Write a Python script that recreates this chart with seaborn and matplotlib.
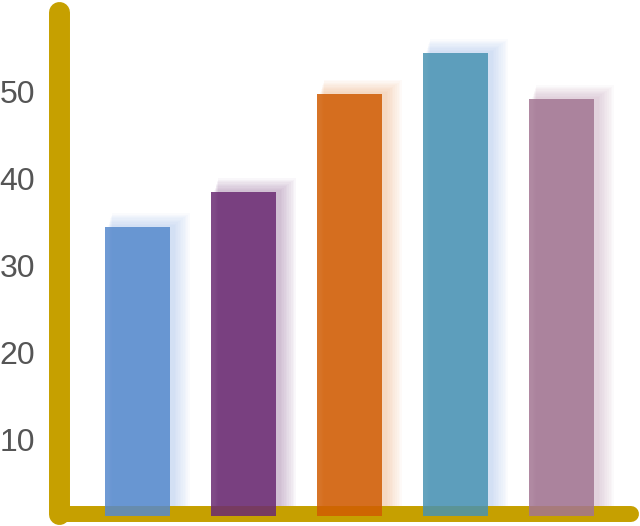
import pandas as pd
import matplotlib
matplotlib.use('Agg')
import matplotlib.pyplot as plt
import seaborn as sns
from matplotlib.patches import Rectangle

# Chart data
categories = ['A', 'B', 'C', 'D', 'E']
values = [34.4, 38.4, 49.7, 54.4, 49.1]
tick_values = [10, 20, 30, 40, 50]

# Styles
bar_colors = ['#5689cd', '#6a2a72', '#d05c02', '#4993b2', '#a27592']
glow_colors = ['#8fb4e6', '#8a5a90', '#f0a060', '#8fb4e6', '#b88cac']
gold = '#c6a000'

df = pd.DataFrame({'category': categories, 'value': values})

sns.set_style('white')
plt.rcParams['font.family'] = ['Liberation Sans', 'DejaVu Sans']

fig = plt.figure(figsize=(6.4, 5.26), dpi=100)
ax = fig.add_axes([60 / 640, 10 / 526, 565 / 640, 508 / 526])

sns.barplot(data=df, x='category', y='value', hue='category', palette=bar_colors,
            width=0.613, alpha=0.85, saturation=1, legend=False, ax=ax, zorder=3,
            linewidth=0, edgecolor='none')

ax.set_xlim(-0.731, 4.599)
ax.set_ylim(1.21, 59.6)

# soft glow behind each bar, mostly to the right and top
px_x = 1 / 106
px_y = 1 / 8.7
for p, gc in zip(ax.patches[:len(categories)], glow_colors):
    x0, w, h = p.get_x(), p.get_width(), p.get_height()
    for k in range(1, 11):
        e = k * 1.3
        ax.add_patch(Rectangle((x0 + (3 + 0.3 * e) * px_x, 0), w + e * px_x,
                               h + (1 + e) * px_y, color=gc, alpha=0.045,
                               lw=0, zorder=1))

# thick gold axes
ax.plot([-0.00177, -0.00177], [0.993, 0.0049], transform=ax.transAxes,
        color=gold, lw=15.1, solid_capstyle='round', clip_on=False, zorder=2)
ax.plot([-0.00177, 1.0106], [0.0039, 0.0039], transform=ax.transAxes,
        color=gold, lw=11.5, solid_capstyle='round', clip_on=False, zorder=2)

ax.set_yticks(tick_values)
ax.set_yticklabels([str(t) for t in tick_values])
ax.tick_params(axis='y', length=0, pad=18, labelsize=23, labelcolor='#555555')
ax.set_xticks([])
ax.set_xlabel('')
ax.set_ylabel('')
for s in ax.spines.values():
    s.set_visible(False)

fig.savefig('out.png', dpi=100)
